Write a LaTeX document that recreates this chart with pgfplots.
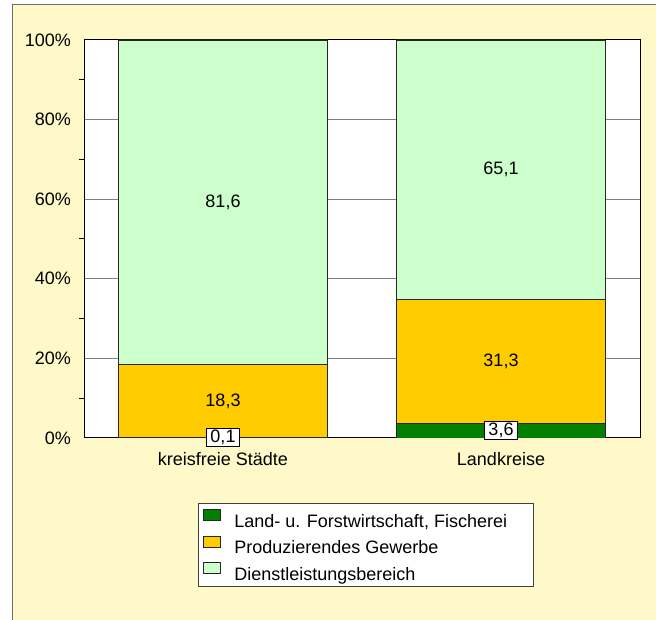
\documentclass[border=0pt]{standalone}
\usepackage{fontspec}
\setmainfont{Liberation Sans}
\usepackage{pgfplots}
\pgfplotsset{compat=1.18}

\definecolor{bgyellow}{RGB}{255,248,200}
\definecolor{frame}{RGB}{110,110,110}
\definecolor{agri}{RGB}{0,128,0}
\definecolor{prod}{RGB}{255,204,0}
\definecolor{serv}{RGB}{204,255,204}

\begin{document}
\fontsize{18}{21}\selectfont
\begin{tikzpicture}
  \useasboundingbox (0pt,0pt) rectangle (656pt,620pt);
  \fill[bgyellow] (12pt,0pt) rectangle (656pt,615pt);
  \draw[frame, line width=1pt] (12pt,0pt) -- (12pt,615pt) -- (656pt,615pt);

  \begin{axis}[
    at={(84pt,182pt)}, anchor=south west,
    width=556pt, height=398pt, scale only axis,
    ybar stacked, bar width=0.752,
    xmin=-0.5, xmax=1.5, ymin=0, ymax=100,
    axis background/.style={fill=white},
    axis line style={black, line width=1pt},
    xtick={0,1},
    xticklabels={kreisfreie Städte, Landkreise},
    xtick style={draw=none},
    xticklabel style={inner sep=0pt, yshift=-14pt},
    ytick={0,20,40,60,80,100},
    yticklabels={0\%,20\%,40\%,60\%,80\%,100\%},
    minor ytick={10,30,50,70,90},
    tick pos=left,
    tick align=outside,
    major tick length=0pt,
    minor tick length=5pt,
    minor tick style={black, line width=1pt},
    yticklabel style={inner sep=0pt, xshift=-13pt},
    ymajorgrids,
    major grid style={gray, line width=1pt},
    every axis plot/.append style={draw=black!85, line width=0.8pt},
    nodes near coords,
    nodes near coords style={font=\fontsize{18}{21}\selectfont},
    /pgf/number format/.cd, use comma, fixed, fixed zerofill, precision=1,
      assume math mode=true,
    /pgfplots/.cd,
    legend style={
      at={(0.205,-0.1633)}, anchor=north west,
      draw=black!75, line width=1pt, fill=white,
      inner xsep=5pt, inner ysep=6pt,
      row sep=8.8pt,
      font=\fontsize{18}{21}\selectfont,
      nodes={text height=12.5pt, text depth=0pt, inner sep=0pt},
      /tikz/every odd column/.append style={column sep=13pt},
    },
    legend cell align=left,
    legend image code/.code={
      \draw[#1, draw=black!85, line width=0.8pt] (0pt,0pt) rectangle (17pt,11pt);
    },
  ]
    \addplot[fill=agri,
      every node near coord/.append style={fill=white, draw=black, line width=0.8pt, inner xsep=4pt, inner ysep=1.5pt}]
      coordinates {(0,0.1) (1,3.6)};
    \addlegendentry{\makebox[294pt][l]{Land- u. Forstwirtschaft, Fischerei}}
    \addplot[fill=prod] coordinates {(0,18.3) (1,31.3)};
    \addlegendentry{Produzierendes Gewerbe}
    \addplot[fill=serv] coordinates {(0,81.6) (1,65.1)};
    \addlegendentry{Dienstleistungsbereich}
  \end{axis}
\end{tikzpicture}
\end{document}
